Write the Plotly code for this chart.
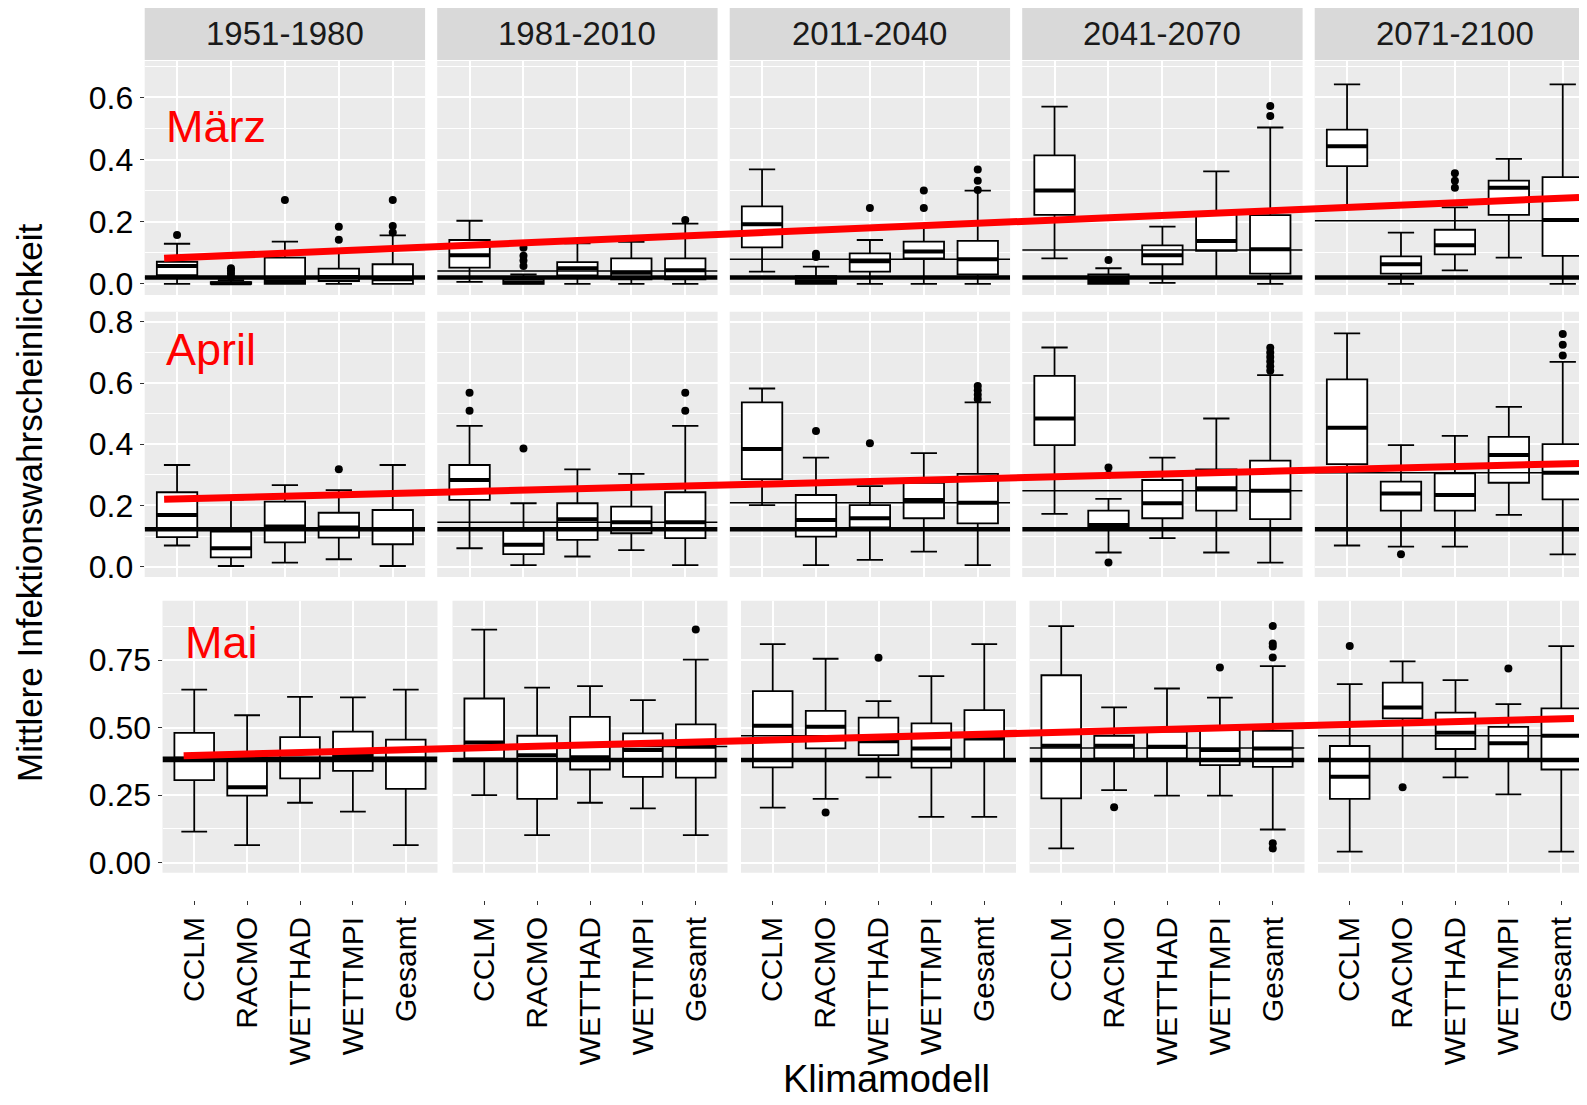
import plotly.graph_objects as go

W, H = 1587, 1105
OFF = 8  # page body margin offset (screen px = figure px + OFF)

MODELS = ["CCLM", "RACMO", "WETTHAD", "WETTMPI", "Gesamt"]
PERIODS = ["1951-1980", "1981-2010", "2011-2040", "2041-2070", "2071-2100"]
MONTHS = ["März", "April", "Mai"]

# ---- box statistics: one row per period, one value per model ----
# März
MAERZ_LOW = [[0.0, 0.0, 0.0, 0.0, 0.0], [0.006, 0.0, 0.0, 0.0, 0.0], [0.039, 0.0, 0.0, 0.0, 0.0],
             [0.082, 0.0, 0.003, 0.02, 0.0], [0.245, 0.0, 0.043, 0.084, 0.0]]
MAERZ_Q1 = [[0.028, 0.0, 0.0, 0.009, 0.0], [0.052, 0.0, 0.027, 0.014, 0.014], [0.117, 0.0, 0.039, 0.082, 0.03],
            [0.222, 0.0, 0.063, 0.106, 0.033], [0.379, 0.033, 0.095, 0.222, 0.09]]
MAERZ_MED = [[0.057, 0.002, 0.008, 0.022, 0.015], [0.092, 0.005, 0.05, 0.036, 0.044], [0.192, 0.008, 0.073, 0.104, 0.079],
             [0.30, 0.009, 0.092, 0.138, 0.111], [0.443, 0.063, 0.124, 0.309, 0.205]]
MAERZ_Q3 = [[0.071, 0.005, 0.084, 0.049, 0.063], [0.141, 0.015, 0.07, 0.082, 0.082], [0.249, 0.025, 0.098, 0.136, 0.138],
            [0.413, 0.03, 0.124, 0.23, 0.221], [0.496, 0.088, 0.174, 0.332, 0.343]]
MAERZ_HIGH = [[0.129, 0.012, 0.136, 0.11, 0.156], [0.203, 0.03, 0.13, 0.135, 0.194], [0.368, 0.055, 0.141, 0.19, 0.30],
              [0.57, 0.05, 0.184, 0.362, 0.503], [0.642, 0.165, 0.246, 0.402, 0.642]]
MAERZ_OUT = [[[0.157], [0.022, 0.032, 0.042, 0.05], [0.27], [0.142, 0.184], [0.165, 0.186, 0.27]],
             [[], [0.057, 0.075, 0.09, 0.116], [], [], [0.205]],
             [[], [0.086, 0.097], [0.244], [0.244, 0.30], [0.302, 0.332, 0.368]],
             [[], [0.077], [], [], [0.54, 0.572]],
             [[], [], [0.309, 0.332, 0.356], [], []]]

# April
APRIL_LOW = [[0.069, 0.002, 0.013, 0.024, 0.002], [0.06, 0.005, 0.033, 0.054, 0.005], [0.201, 0.005, 0.022, 0.049, 0.005],
             [0.172, 0.046, 0.093, 0.046, 0.013], [0.069, 0.065, 0.065, 0.169, 0.04]]
APRIL_Q1 = [[0.096, 0.03, 0.079, 0.095, 0.073], [0.218, 0.041, 0.087, 0.109, 0.093], [0.286, 0.098, 0.128, 0.158, 0.141],
            [0.397, 0.125, 0.158, 0.183, 0.155], [0.335, 0.183, 0.183, 0.274, 0.22]]
APRIL_MED = [[0.169, 0.06, 0.131, 0.128, 0.122], [0.283, 0.071, 0.155, 0.145, 0.145], [0.384, 0.152, 0.158, 0.218, 0.209],
             [0.484, 0.136, 0.207, 0.256, 0.248], [0.454, 0.239, 0.234, 0.365, 0.307]]
APRIL_Q3 = [[0.243, 0.114, 0.212, 0.176, 0.185], [0.332, 0.118, 0.207, 0.196, 0.243], [0.537, 0.234, 0.201, 0.274, 0.303],
            [0.623, 0.183, 0.283, 0.318, 0.346], [0.612, 0.278, 0.305, 0.424, 0.40]]
APRIL_HIGH = [[0.332, 0.22, 0.266, 0.25, 0.332], [0.46, 0.207, 0.318, 0.303, 0.46], [0.582, 0.356, 0.263, 0.371, 0.537],
              [0.716, 0.221, 0.356, 0.484, 0.626], [0.762, 0.397, 0.427, 0.522, 0.669]]
APRIL_OUT = [[[], [], [], [0.318], []],
             [[0.509, 0.568], [0.386], [], [], [0.509, 0.568]],
             [[], [0.443], [0.403], [], [0.548, 0.562, 0.576, 0.59]],
             [[], [0.013, 0.30, 0.324], [], [], [0.64, 0.655, 0.67, 0.685, 0.70, 0.715]],
             [[], [0.04], [], [], [0.69, 0.725, 0.76]]]

# Mai
MAI_LOW = [[0.115, 0.065, 0.222, 0.189, 0.065], [0.25, 0.102, 0.222, 0.201, 0.102], [0.204, 0.236, 0.316, 0.17, 0.17],
           [0.053, 0.269, 0.248, 0.248, 0.123], [0.041, 0.38, 0.316, 0.253, 0.041]]
MAI_Q1 = [[0.306, 0.248, 0.312, 0.34, 0.273], [0.386, 0.236, 0.345, 0.318, 0.315], [0.353, 0.423, 0.398, 0.352, 0.38],
          [0.238, 0.386, 0.386, 0.361, 0.355], [0.236, 0.534, 0.421, 0.382, 0.345]]
MAI_MED = [[0.385, 0.279, 0.385, 0.395, 0.385], [0.445, 0.398, 0.39, 0.417, 0.429], [0.507, 0.503, 0.45, 0.423, 0.46],
           [0.433, 0.433, 0.429, 0.417, 0.423], [0.318, 0.575, 0.481, 0.442, 0.47]]
MAI_Q3 = [[0.481, 0.39, 0.465, 0.485, 0.456], [0.608, 0.47, 0.54, 0.479, 0.512], [0.635, 0.562, 0.537, 0.516, 0.565],
          [0.694, 0.47, 0.485, 0.491, 0.488], [0.432, 0.667, 0.556, 0.503, 0.571]]
MAI_HIGH = [[0.641, 0.546, 0.614, 0.612, 0.641], [0.863, 0.648, 0.654, 0.602, 0.752], [0.809, 0.755, 0.598, 0.691, 0.809],
            [0.876, 0.575, 0.645, 0.611, 0.728], [0.661, 0.745, 0.676, 0.587, 0.802]]
MAI_OUT = [[[], [], [], [], []],
           [[], [], [], [], [0.863]],
           [[], [0.186], [0.759], [], []],
           [[], [0.205], [], [0.723], [0.053, 0.072, 0.76, 0.80, 0.812, 0.876]],
           [[0.802], [0.279], [], [0.719], []]]

# reference lines
BASE_LINE = [0.02, 0.122, 0.38]                       # thick line, one per month
PERIOD_LINE = [[0.02, 0.041, 0.079, 0.109, 0.203],    # thin line, per month & period
               [0.125, 0.145, 0.209, 0.248, 0.307],
               [0.39, 0.43, 0.47, 0.425, 0.47]]

# red trend line (x in slots counted across all five periods)
TREND_X = [[0.76, 27.0], [0.76, 27.0], [0.80, 27.09]]
TREND_Y = [[0.082, 0.278], [0.22, 0.337], [0.396, 0.534]]

# y axes
Y_RANGE = [[-0.036, 0.717], [-0.034, 0.833], [-0.037, 0.97]]
Y_TICKS = [[0.0, 0.2, 0.4, 0.6], [0.0, 0.2, 0.4, 0.6, 0.8], [0.0, 0.25, 0.5, 0.75]]
Y_TICKTEXT = [["0.0", "0.2", "0.4", "0.6"], ["0.0", "0.2", "0.4", "0.6", "0.8"], ["0.00", "0.25", "0.50", "0.75"]]
Y_MINOR = [[0.1, 0.3, 0.5, 0.7], [0.1, 0.3, 0.5, 0.7], [0.125, 0.375, 0.625, 0.875]]

STATS = [
    (MAERZ_LOW, MAERZ_Q1, MAERZ_MED, MAERZ_Q3, MAERZ_HIGH, MAERZ_OUT),
    (APRIL_LOW, APRIL_Q1, APRIL_MED, APRIL_Q3, APRIL_HIGH, APRIL_OUT),
    (MAI_LOW, MAI_Q1, MAI_MED, MAI_Q3, MAI_HIGH, MAI_OUT),
]

# ---- layout geometry (screen pixels) ----
ROW_PIX = [(61, 295), (311.7, 577), (600.7, 872.7)]
COL_LEFT = [[144.7 + 292.5 * k for k in range(5)],
            [144.7 + 292.5 * k for k in range(5)],
            [162.5, 452.5, 741.0, 1029.5, 1318.0]]
COL_W = [280.4, 280.4, 275.0]


def px(x):
    return (x - OFF) / W


def py(y):
    return 1 - (y - OFF) / H


FONT = "Liberation Sans, Arial, sans-serif"

POS = [1, 2, 3, 4, 5]
BOXW = 0.75

fig = go.Figure()
layout = dict(template="none", width=W, height=H, margin=dict(l=0, r=0, t=0, b=0, autoexpand=False),
              paper_bgcolor="white", plot_bgcolor="rgba(0,0,0,0)",
              showlegend=False, shapes=[], annotations=[])

for r in range(3):
    low, q1, med, q3, high, out = STATS[r]
    top, bot = ROW_PIX[r]
    ydom = [py(bot), py(top)]
    for c in range(5):
        n = r * 5 + c + 1
        xs = "x" if n == 1 else f"x{n}"
        ys = "y" if n == 1 else f"y{n}"
        xk = "xaxis" if n == 1 else f"xaxis{n}"
        yk = "yaxis" if n == 1 else f"yaxis{n}"
        x0 = COL_LEFT[r][c]
        x1 = x0 + COL_W[r]
        hi = 5.6
        if x1 - OFF > W:
            hi = 0.4 + 5.2 * (W + OFF - x0) / COL_W[r]
            x1 = W + OFF
        xa = dict(domain=[px(x0), px(x1)], range=[0.4, hi], tickvals=POS, ticktext=MODELS,
                  showgrid=True, gridcolor="white", gridwidth=1.6, zeroline=False,
                  showline=False, anchor=ys, showticklabels=False, ticks="", automargin=False)
        if r == 2:
            xa.update(anchor="free", position=py(900), showticklabels=True, ticks="outside",
                      ticklen=4, tickwidth=1, tickcolor="#333333", tickangle=-90,
                      tickfont=dict(family=FONT, size=30, color="black"))
        ya = dict(domain=ydom, range=Y_RANGE[r], tickvals=Y_TICKS[r], ticktext=Y_TICKTEXT[r],
                  showgrid=True, gridcolor="white", gridwidth=1.6, zeroline=False, showline=False,
                  anchor=xs, showticklabels=(c == 0), ticks=("outside" if c == 0 else ""),
                  ticklen=4, tickwidth=1, tickcolor="#333333", automargin=False,
                  tickfont=dict(family=FONT, size=32, color="black"),
                  minor=dict(tickvals=Y_MINOR[r], showgrid=True, gridcolor="white", gridwidth=0.8, ticks=""))
        layout[xk] = xa
        layout[yk] = ya

        layout["shapes"].append(dict(type="rect", xref=f"{xs} domain", yref=f"{ys} domain",
                                     x0=0, x1=1, y0=0, y1=1, fillcolor="#EBEBEB",
                                     line=dict(width=0), layer="below"))

        fig.add_trace(go.Box(x=POS, q1=q1[c], median=med[c], q3=q3[c],
                             lowerfence=low[c], upperfence=high[c], orientation="v",
                             width=BOXW, whiskerwidth=0.65, fillcolor="white",
                             line=dict(color="black", width=1.8), boxpoints=False,
                             hoverinfo="skip", xaxis=xs, yaxis=ys))
        # thick median bars
        mx, my = [], []
        for j, m in enumerate(med[c]):
            mx += [POS[j] - BOXW / 2, POS[j] + BOXW / 2, None]
            my += [m, m, None]
        fig.add_trace(go.Scatter(x=mx, y=my, mode="lines", line=dict(color="black", width=4),
                                 hoverinfo="skip", xaxis=xs, yaxis=ys))
        # outliers
        ox, oy = [], []
        for j, pts in enumerate(out[c]):
            ox += [POS[j]] * len(pts)
            oy += pts
        if ox:
            fig.add_trace(go.Scatter(x=ox, y=oy, mode="markers",
                                     marker=dict(color="black", size=8),
                                     hoverinfo="skip", xaxis=xs, yaxis=ys))
        # reference lines
        fig.add_trace(go.Scatter(x=[0.4, 5.6], y=[PERIOD_LINE[r][c]] * 2, mode="lines",
                                 line=dict(color="black", width=1.5), hoverinfo="skip",
                                 xaxis=xs, yaxis=ys))
        fig.add_trace(go.Scatter(x=[0.4, 5.6], y=[BASE_LINE[r]] * 2, mode="lines",
                                 line=dict(color="black", width=4.5), hoverinfo="skip",
                                 xaxis=xs, yaxis=ys))

        if r == 0:
            sx0 = COL_LEFT[0][c]
            sx1 = min(sx0 + COL_W[0], W + OFF)
            layout["shapes"].append(dict(type="rect", xref="paper", yref="paper",
                                         x0=px(sx0), x1=px(sx1), y0=py(60), y1=py(5),
                                         fillcolor="#D9D9D9", line=dict(width=0), layer="below"))
            layout["annotations"].append(dict(text=PERIODS[c], xref="paper", yref="paper",
                                              x=px(sx0 + COL_W[0] / 2), y=py(33),
                                              xanchor="center", yanchor="middle", showarrow=False,
                                              font=dict(family=FONT, size=33, color="#1A1A1A")))

# red trend lines on full-row overlay axes
for r in range(3):
    n = 16 + r
    top, bot = ROW_PIX[r]
    x0 = COL_LEFT[r][0]
    unit = COL_W[r] / 5.2
    layout[f"xaxis{n}"] = dict(domain=[px(x0), 1], range=[0.4, 0.4 + (W + OFF - x0) / unit],
                               visible=False, anchor=f"y{n}", automargin=False)
    layout[f"yaxis{n}"] = dict(domain=[py(bot), py(top)], range=Y_RANGE[r],
                               visible=False, anchor=f"x{n}", automargin=False)
    fig.add_trace(go.Scatter(x=TREND_X[r], y=TREND_Y[r], mode="lines",
                             line=dict(color="red", width=7), hoverinfo="skip",
                             xaxis=f"x{n}", yaxis=f"y{n}"))

# month labels
MONTH_POS = [(164, 126.5), (164, 349), (183, 642)]
for r in range(3):
    layout["annotations"].append(dict(text=MONTHS[r], xref="paper", yref="paper",
                                      x=px(MONTH_POS[r][0]), y=py(MONTH_POS[r][1]),
                                      xanchor="left", yanchor="middle", showarrow=False,
                                      font=dict(family=FONT, size=45, color="red")))

# axis titles
layout["annotations"].append(dict(text="Klimamodell", xref="paper", yref="paper",
                                  x=px(887), y=py(1079), xanchor="center", yanchor="middle",
                                  showarrow=False, font=dict(family=FONT, size=38, color="black")))
layout["annotations"].append(dict(text="Mittlere Infektionswahrscheinlichkeit", xref="paper", yref="paper",
                                  x=px(30), y=py(503), xanchor="center", yanchor="middle",
                                  textangle=-90, showarrow=False,
                                  font=dict(family=FONT, size=35, color="black")))

fig.update_layout(**layout)
fig.write_html("out.html")
